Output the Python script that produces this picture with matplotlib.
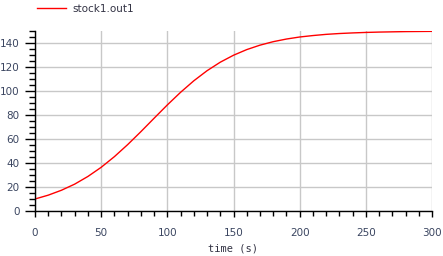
import matplotlib
matplotlib.use("Agg")
import matplotlib.pyplot as plt
from matplotlib.ticker import MultipleLocator

time_s = [0, 10, 20, 30, 40, 50, 60, 70, 80, 90, 100, 110, 120, 130, 140, 150,
          160, 170, 180, 190, 200, 210, 220, 230, 240, 250, 260, 270, 280, 290, 300]
stock1_out1 = [10.0, 13.2, 17.3, 22.4, 28.8, 36.4, 45.3, 55.3, 66.1, 77.3, 88.4,
               98.9, 108.5, 116.9, 124.0, 129.8, 134.5, 138.2, 141.1, 143.3, 145.0,
               146.2, 147.2, 147.9, 148.4, 148.8, 149.1, 149.3, 149.5, 149.6, 149.7]
series_label = "stock1.out1"
x_label = "time (s)"

fig = plt.figure(figsize=(4.43, 2.56), dpi=100)
ax = fig.add_axes([35/443, 1-211/256, (432-35)/443, (211-31)/256])
ax.plot(time_s, stock1_out1, color="red", lw=1.0, label=series_label)
ax.set_xlim(0, 300)
ax.set_ylim(0, 150)
ax.xaxis.set_major_locator(MultipleLocator(50))
ax.xaxis.set_minor_locator(MultipleLocator(10))
ax.yaxis.set_major_locator(MultipleLocator(20))
ax.yaxis.set_minor_locator(MultipleLocator(5))
ax.grid(True, which="major", color="#c8c8c8", lw=1.0)
ax.set_axisbelow(True)
for s in ["top", "right"]:
    ax.spines[s].set_visible(False)
for s in ["left", "bottom"]:
    ax.spines[s].set_color("black")
    ax.spines[s].set_linewidth(1.0)
ax.tick_params(axis="y", which="major", direction="out", length=7, width=1, labelsize=7.5,
               labelcolor="#3a4560", pad=4)
ax.tick_params(axis="y", which="minor", direction="out", length=4.5, width=1)
ax.tick_params(axis="x", which="major", direction="out", length=4.5, width=1, labelsize=7.5,
               labelcolor="#3a4560", pad=8)
ax.tick_params(axis="x", which="minor", direction="out", length=3.5, width=1)
ax.set_xlabel(x_label, family="DejaVu Sans Mono", fontsize=7.5, color="#333344", labelpad=4)
leg = fig.legend(loc="upper left", bbox_to_anchor=(31/443, 1.01), frameon=False,
                 fontsize=7.5, handlelength=2.8, handletextpad=0.6, borderaxespad=0.2)
for t in leg.get_texts():
    t.set_color("#333344")
fig.savefig("out.png", dpi=100)
